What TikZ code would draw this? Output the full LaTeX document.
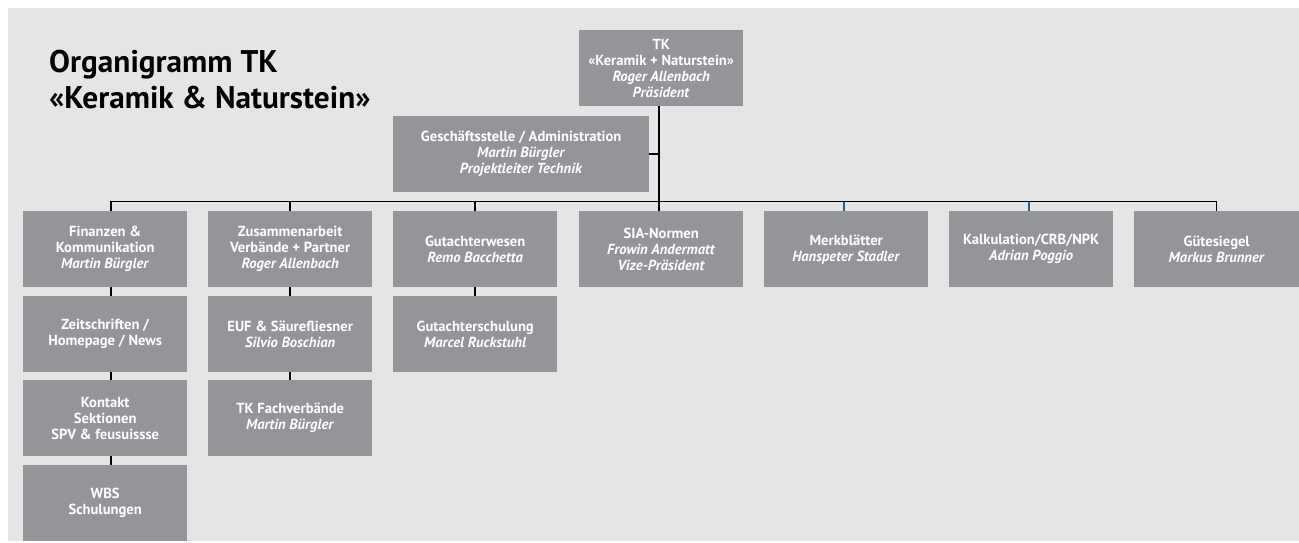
\documentclass[tikz,border=0pt]{standalone}
\usepackage{fontspec}
\setmainfont{PT Sans}
\definecolor{boxgray}{RGB}{147,149,152}
\definecolor{bggray}{RGB}{229,229,229}
\definecolor{dropblue}{RGB}{35,95,165}
\tikzset{
  orgbox/.style={anchor=north west, fill=boxgray, text=white, inner sep=0pt,
    minimum width=164pt, minimum height=76pt, align=center,
    font=\fontsize{14.6}{16}\selectfont\bfseries},
  conn/.style={line width=1.5pt, black},
  blueconn/.style={line width=1.5pt, dropblue},
}
\newcommand{\nm}[1]{\textit{#1}}
\begin{document}
\begin{tikzpicture}[x=1pt,y=-1pt]
\useasboundingbox (0,0) rectangle (1299,542);
\fill[bggray] (8,8) rectangle (1299,541);
% title
\node[anchor=base west, align=left, inner sep=0pt,
  font=\fontsize{31.3}{36}\selectfont\bfseries] (title) at (49,108)
  {Organigramm TK\\«Keramik \& Naturstein»};
% top
\node[orgbox, minimum width=164pt] (tk) at (579,30)
  {TK\\«Keramik + Naturstein»\\\nm{Roger Allenbach}\\\nm{Präsident}};
\node[orgbox, minimum width=256pt] (gs) at (393,116)
  {Geschäftsstelle / Administration\\\nm{Martin Bürgler}\\\nm{Projektleiter Technik}};
% row 1
\node[orgbox] (fin) at (23,211) {Finanzen \&\\Kommunikation\\\nm{Martin Bürgler}};
\node[orgbox] (zus) at (208,211) {Zusammenarbeit\\Verbände + Partner\\\nm{Roger Allenbach}};
\node[orgbox] (gut) at (393,211) {Gutachterwesen\\\nm{Remo Bacchetta}};
\node[orgbox] (sia) at (579,211) {SIA-Normen\\\nm{Frowin Andermatt}\\\nm{Vize-Präsident}};
\node[orgbox] (merk) at (764,211) {Merkblätter\\\nm{Hanspeter Stadler}};
\node[orgbox] (kalk) at (949,211) {Kalkulation/CRB/NPK\\\nm{Adrian Poggio}};
\node[orgbox, minimum width=165pt] (guete) at (1134,211) {Gütesiegel\\\nm{Markus Brunner}};
% row 2
\node[orgbox] (zeit) at (23,296) {Zeitschriften /\\Homepage / News};
\node[orgbox] (euf) at (208,296) {EUF \& Säurefliesner\\\nm{Silvio Boschian}};
\node[orgbox] (gsch) at (393,296) {Gutachterschulung\\\nm{Marcel Ruckstuhl}};
% row 3
\node[orgbox] (kont) at (23,380) {Kontakt\\Sektionen\\SPV \& feusuissse};
\node[orgbox] (tkf) at (208,380) {TK Fachverbände\\\nm{Martin Bürgler}};
% row 4
\node[orgbox, minimum height=76pt] (wbs) at (23,465) {WBS\\Schulungen};
% connectors
\coordinate (barL) at (111,201.5);
\coordinate (barR) at (guete.north |- barL);
\coordinate (spine) at ([xshift=-2pt]tk.south);
\draw[conn] (spine) -- (spine |- barL);
\draw[conn] (gs.east) -- (gs.east -| spine);
\draw[conn, line join=miter] (barL |- fin.north) -- (barL) -- (barR) -- (guete.north);
\draw[conn] (zus.north |- barL) -- (zus.north);
\draw[conn] (gut.north |- barL) -- (gut.north);
\draw[conn] ([xshift=-2pt]sia.north |- barL) -- ([xshift=-2pt]sia.north);
\draw[blueconn] ([xshift=-2pt]merk.north |- barL) -- ([xshift=-2pt]merk.north);
\draw[blueconn] ([xshift=-2pt]kalk.north |- barL) -- ([xshift=-2pt]kalk.north);
\draw[conn] (barL |- fin.south) -- (barL |- zeit.north);
\draw[conn] (barL |- zeit.south) -- (barL |- kont.north);
\draw[conn] (barL |- kont.south) -- (barL |- wbs.north);
\draw[conn] (zus.south) -- (euf.north);
\draw[conn] (euf.south) -- (tkf.north);
\draw[conn] (gut.south) -- (gsch.north);
\end{tikzpicture}
\end{document}
